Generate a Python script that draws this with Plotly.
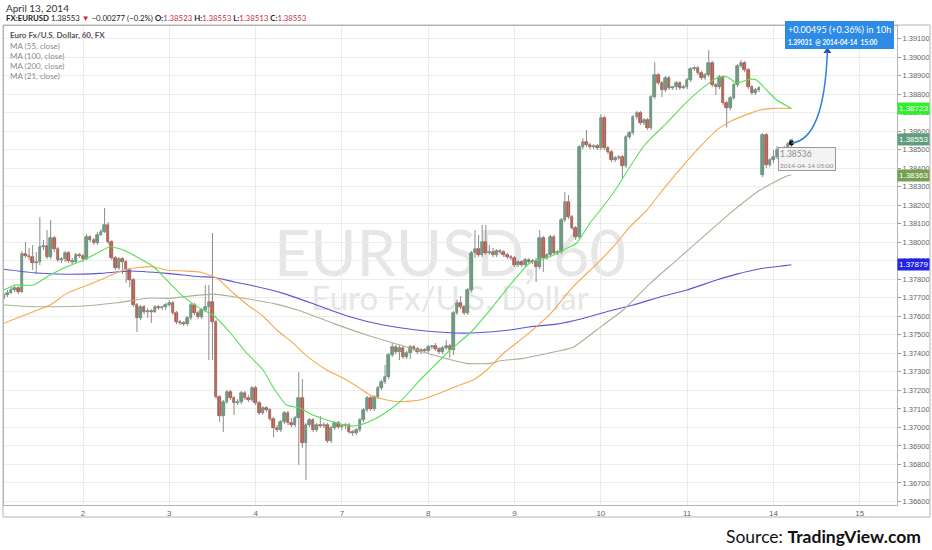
import plotly.graph_objects as go

# ---------------- data (hourly bars, x = trading-hour index, 24 per day) ----------------
hours = list(range(2, 222))

open_ = [
    1.37699, 1.37715, 1.37726, 1.37742, 1.37753, 1.37731, 1.37936, 1.37926, 1.37920, 1.37888,
    1.37893, 1.37974, 1.37980, 1.37920, 1.38023, 1.37963, 1.37904, 1.37909, 1.37942, 1.37899,
    1.37893, 1.37931, 1.37926, 1.37909, 1.38028, 1.38012, 1.37996, 1.38039, 1.38055, 1.38093,
    1.38001, 1.37915, 1.37861, 1.37909, 1.37893, 1.37850, 1.37796, 1.37661, 1.37591, 1.37650,
    1.37623, 1.37629, 1.37623, 1.37650, 1.37645, 1.37650, 1.37661, 1.37672, 1.37618, 1.37569,
    1.37564, 1.37558, 1.37591, 1.37661, 1.37618, 1.37596, 1.37634, 1.37650, 1.37677, 1.37569,
    1.37164, 1.37062, 1.37137, 1.37191, 1.37159, 1.37132, 1.37137, 1.37186, 1.37159, 1.37148,
    1.37213, 1.37132, 1.37078, 1.37105, 1.37094, 1.37045, 1.36997, 1.36986, 1.37029, 1.37078,
    1.37024, 1.37013, 1.37051, 1.37159, 1.36916, 1.37013, 1.37040, 1.36986, 1.37013, 1.37008,
    1.37013, 1.36927, 1.36997, 1.37024, 1.37002, 1.37008, 1.37013, 1.36975, 1.36970, 1.36986,
    1.37040, 1.37094, 1.37159, 1.37099, 1.37164, 1.37213, 1.37245, 1.37272, 1.37391, 1.37434,
    1.37407, 1.37429, 1.37380, 1.37402, 1.37434, 1.37423, 1.37407, 1.37418, 1.37413, 1.37434,
    1.37440, 1.37423, 1.37407, 1.37429, 1.37440, 1.37418, 1.37618, 1.37672, 1.37650, 1.37618,
    1.37742, 1.37942, 1.37963, 1.37931, 1.38001, 1.37942, 1.37947, 1.37931, 1.37953, 1.37947,
    1.37931, 1.37920, 1.37915, 1.37877, 1.37893, 1.37877, 1.37904, 1.37893, 1.37899, 1.37866,
    1.38023, 1.37915, 1.37931, 1.38028, 1.37942, 1.37947, 1.38120, 1.38217, 1.38136, 1.38077,
    1.38028, 1.38514, 1.38541, 1.38525, 1.38514, 1.38520, 1.38509, 1.38671, 1.38509, 1.38487,
    1.38444, 1.38455, 1.38460, 1.38412, 1.38568, 1.38590, 1.38676, 1.38698, 1.38644, 1.38660,
    1.38617, 1.38784, 1.38903, 1.38860, 1.38822, 1.38887, 1.38833, 1.38838, 1.38860, 1.38833,
    1.38838, 1.38876, 1.38935, 1.38941, 1.38914, 1.38887, 1.38903, 1.38968, 1.38849, 1.38838,
    1.38892, 1.38752, 1.38725, 1.38779, 1.38849, 1.38952, 1.38968, 1.38930, 1.38838, 1.38806,
    1.38822, 1.38363, 1.38579, 1.38417, 1.38444, 1.38460, 1.38498, 1.38487, 1.38509, 1.38523,
]
close = [
    1.37715, 1.37726, 1.37742, 1.37753, 1.37731, 1.37936, 1.37926, 1.37920, 1.37888, 1.37893,
    1.37974, 1.37980, 1.37920, 1.38023, 1.37963, 1.37904, 1.37909, 1.37942, 1.37899, 1.37893,
    1.37931, 1.37926, 1.37909, 1.38028, 1.38012, 1.37996, 1.38039, 1.38055, 1.38093, 1.38001,
    1.37915, 1.37861, 1.37909, 1.37893, 1.37850, 1.37796, 1.37661, 1.37591, 1.37650, 1.37623,
    1.37629, 1.37623, 1.37650, 1.37645, 1.37650, 1.37661, 1.37672, 1.37618, 1.37569, 1.37564,
    1.37558, 1.37591, 1.37661, 1.37618, 1.37596, 1.37634, 1.37650, 1.37677, 1.37569, 1.37164,
    1.37062, 1.37137, 1.37191, 1.37159, 1.37132, 1.37137, 1.37186, 1.37159, 1.37148, 1.37213,
    1.37132, 1.37078, 1.37105, 1.37094, 1.37045, 1.36997, 1.36986, 1.37029, 1.37078, 1.37024,
    1.37013, 1.37051, 1.37159, 1.36916, 1.37013, 1.37040, 1.36986, 1.37013, 1.37008, 1.37013,
    1.36927, 1.36997, 1.37024, 1.37002, 1.37008, 1.37013, 1.36975, 1.36970, 1.36986, 1.37040,
    1.37094, 1.37159, 1.37099, 1.37164, 1.37213, 1.37245, 1.37272, 1.37391, 1.37434, 1.37407,
    1.37429, 1.37380, 1.37402, 1.37434, 1.37423, 1.37407, 1.37418, 1.37413, 1.37434, 1.37440,
    1.37423, 1.37407, 1.37429, 1.37440, 1.37418, 1.37618, 1.37672, 1.37650, 1.37618, 1.37742,
    1.37942, 1.37963, 1.37931, 1.38001, 1.37942, 1.37947, 1.37931, 1.37953, 1.37947, 1.37931,
    1.37920, 1.37915, 1.37877, 1.37893, 1.37877, 1.37904, 1.37893, 1.37899, 1.37866, 1.38023,
    1.37915, 1.37931, 1.38028, 1.37942, 1.37947, 1.38120, 1.38217, 1.38136, 1.38077, 1.38028,
    1.38514, 1.38541, 1.38525, 1.38514, 1.38520, 1.38509, 1.38671, 1.38509, 1.38487, 1.38444,
    1.38455, 1.38460, 1.38412, 1.38568, 1.38590, 1.38676, 1.38698, 1.38644, 1.38660, 1.38617,
    1.38784, 1.38903, 1.38860, 1.38822, 1.38887, 1.38833, 1.38838, 1.38860, 1.38833, 1.38838,
    1.38876, 1.38935, 1.38941, 1.38914, 1.38887, 1.38903, 1.38968, 1.38849, 1.38838, 1.38892,
    1.38752, 1.38725, 1.38779, 1.38849, 1.38952, 1.38968, 1.38930, 1.38838, 1.38806, 1.38822,
    1.38833, 1.38579, 1.38417, 1.38444, 1.38460, 1.38498, 1.38487, 1.38509, 1.38530, 1.38553,
]
high = [
    1.37726, 1.37742, 1.37758, 1.37769, 1.37764, 1.37953, 1.38001, 1.37969, 1.37985, 1.37947,
    1.38136, 1.38012, 1.38066, 1.38120, 1.38034, 1.37974, 1.37920, 1.37953, 1.37953, 1.37915,
    1.37942, 1.37942, 1.37936, 1.38044, 1.38039, 1.38023, 1.38055, 1.38071, 1.38185, 1.38109,
    1.38012, 1.37926, 1.37920, 1.37920, 1.37904, 1.37861, 1.37807, 1.37672, 1.37661, 1.37661,
    1.37645, 1.37639, 1.37661, 1.37661, 1.37656, 1.37672, 1.37688, 1.37683, 1.37629, 1.37580,
    1.37575, 1.37602, 1.37672, 1.37672, 1.37629, 1.37645, 1.37769, 1.37769, 1.38050, 1.37580,
    1.37175, 1.37148, 1.37202, 1.37202, 1.37170, 1.37153, 1.37197, 1.37197, 1.37175, 1.37224,
    1.37224, 1.37143, 1.37116, 1.37116, 1.37105, 1.37056, 1.37013, 1.37040, 1.37089, 1.37089,
    1.37051, 1.37062, 1.37299, 1.37261, 1.37024, 1.37051, 1.37051, 1.37024, 1.37062, 1.37029,
    1.37024, 1.37008, 1.37035, 1.37035, 1.37018, 1.37024, 1.37024, 1.36986, 1.36997, 1.37051,
    1.37105, 1.37170, 1.37170, 1.37175, 1.37224, 1.37256, 1.37337, 1.37402, 1.37456, 1.37445,
    1.37445, 1.37440, 1.37413, 1.37445, 1.37445, 1.37434, 1.37429, 1.37429, 1.37445, 1.37445,
    1.37456, 1.37434, 1.37440, 1.37472, 1.37450, 1.37629, 1.37688, 1.37710, 1.37661, 1.37753,
    1.37953, 1.38066, 1.38039, 1.38093, 1.38093, 1.37985, 1.37969, 1.37963, 1.37963, 1.37958,
    1.37942, 1.37931, 1.37926, 1.37904, 1.37904, 1.37915, 1.37915, 1.37909, 1.37915, 1.38066,
    1.38034, 1.37942, 1.38039, 1.38039, 1.37958, 1.38131, 1.38271, 1.38255, 1.38147, 1.38088,
    1.38525, 1.38563, 1.38606, 1.38536, 1.38530, 1.38530, 1.38692, 1.38682, 1.38520, 1.38498,
    1.38466, 1.38471, 1.38471, 1.38579, 1.38601, 1.38687, 1.38709, 1.38709, 1.38671, 1.38671,
    1.38795, 1.38973, 1.38914, 1.38871, 1.38898, 1.38898, 1.38844, 1.38871, 1.38871, 1.38849,
    1.38887, 1.38946, 1.38952, 1.38952, 1.38925, 1.38914, 1.39038, 1.38979, 1.38860, 1.38903,
    1.38903, 1.38763, 1.38790, 1.38860, 1.38962, 1.38984, 1.38979, 1.38941, 1.38849, 1.38833,
    1.38844, 1.38590, 1.38590, 1.38455, 1.38498, 1.38520, 1.38509, 1.38520, 1.38541, 1.38553,
]
low = [
    1.37688, 1.37704, 1.37720, 1.37731, 1.37720, 1.37726, 1.37915, 1.37904, 1.37850, 1.37828,
    1.37877, 1.37958, 1.37909, 1.37909, 1.37947, 1.37893, 1.37888, 1.37893, 1.37888, 1.37882,
    1.37888, 1.37915, 1.37893, 1.37904, 1.38001, 1.37985, 1.37985, 1.38034, 1.38050, 1.37990,
    1.37904, 1.37850, 1.37850, 1.37828, 1.37780, 1.37758, 1.37650, 1.37515, 1.37580, 1.37612,
    1.37591, 1.37564, 1.37618, 1.37634, 1.37634, 1.37634, 1.37650, 1.37607, 1.37558, 1.37553,
    1.37548, 1.37548, 1.37580, 1.37607, 1.37585, 1.37585, 1.37623, 1.37364, 1.37364, 1.37153,
    1.37029, 1.36975, 1.37126, 1.37148, 1.37067, 1.37121, 1.37126, 1.37148, 1.37137, 1.37137,
    1.37121, 1.37067, 1.37067, 1.37083, 1.37035, 1.36948, 1.36975, 1.36975, 1.37018, 1.37013,
    1.37002, 1.37002, 1.36797, 1.36889, 1.36716, 1.37002, 1.36975, 1.36975, 1.36997, 1.36997,
    1.36916, 1.36916, 1.36986, 1.36991, 1.36986, 1.36991, 1.36964, 1.36954, 1.36959, 1.36975,
    1.37029, 1.37083, 1.37089, 1.37089, 1.37153, 1.37202, 1.37234, 1.37261, 1.37380, 1.37396,
    1.37364, 1.37369, 1.37369, 1.37369, 1.37413, 1.37396, 1.37396, 1.37407, 1.37402, 1.37423,
    1.37413, 1.37396, 1.37396, 1.37418, 1.37375, 1.37391, 1.37607, 1.37639, 1.37607, 1.37607,
    1.37731, 1.37915, 1.37920, 1.37920, 1.37931, 1.37931, 1.37920, 1.37920, 1.37936, 1.37920,
    1.37909, 1.37904, 1.37866, 1.37866, 1.37866, 1.37866, 1.37882, 1.37882, 1.37785, 1.37855,
    1.37839, 1.37904, 1.37920, 1.37931, 1.37931, 1.37936, 1.38109, 1.38125, 1.38066, 1.38012,
    1.38017, 1.38503, 1.38514, 1.38503, 1.38503, 1.38498, 1.38498, 1.38498, 1.38476, 1.38433,
    1.38433, 1.38444, 1.38347, 1.38401, 1.38557, 1.38579, 1.38665, 1.38633, 1.38633, 1.38606,
    1.38606, 1.38773, 1.38849, 1.38784, 1.38811, 1.38822, 1.38822, 1.38822, 1.38822, 1.38827,
    1.38827, 1.38865, 1.38925, 1.38903, 1.38876, 1.38876, 1.38892, 1.38838, 1.38795, 1.38827,
    1.38741, 1.38622, 1.38714, 1.38768, 1.38838, 1.38941, 1.38919, 1.38827, 1.38795, 1.38795,
    1.38811, 1.38352, 1.38401, 1.38406, 1.38428, 1.38449, 1.38476, 1.38476, 1.38498, 1.38513,
]

# moving averages (hour index, value)
ma21_h = [2, 5.1, 10.2, 14.8, 19.5, 24.1, 28.7, 31.5, 35.2, 38.9, 43.6, 47.3, 51.9, 56.5, 60.2,
          65, 69.5, 74.1, 76.8, 80.6, 84.3, 87.9, 91.8, 95.5, 99.2, 101, 104.6, 108.5, 112.2,
          117.7, 120.5, 126.1, 131.6, 137.2, 142.7, 148.3, 153.9, 157.6, 161.3, 165, 168.6,
          172.4, 176.1, 179.8, 182, 186.3, 191, 195.6, 200.2, 203, 205.8, 209.5, 211.3, 214.1,
          216.9, 221]
ma21_v = [1.37742, 1.37769, 1.37769, 1.37823, 1.37868, 1.37904, 1.37949, 1.37976, 1.37958,
          1.37922, 1.37868, 1.37796, 1.37706, 1.37643, 1.37607, 1.37510, 1.37402, 1.37310,
          1.37220, 1.37121, 1.37105, 1.37067, 1.37040, 1.37018, 1.37008, 1.37013, 1.37040,
          1.37085, 1.37139, 1.37256, 1.37310, 1.37418, 1.37510, 1.37634, 1.37769, 1.37888,
          1.37922, 1.37958, 1.37996, 1.38104, 1.38192, 1.38293, 1.38408, 1.38516, 1.38563,
          1.38644, 1.38741, 1.38822, 1.38887, 1.38894, 1.38860, 1.38881, 1.38876, 1.38822,
          1.38768, 1.38723]

ma55_h = [2, 6.5, 10.2, 14.8, 19.5, 24.1, 28.7, 32.4, 36.1, 38.9, 43, 47.3, 52, 56.5, 61.2,
          65.8, 70.4, 74, 77.9, 82.5, 85.4, 87.1, 91.8, 96.4, 101, 103.8, 108.5, 112.2, 117.7,
          123.3, 128, 132.5, 136.3, 141, 146.8, 151.1, 153.9, 160.3, 166.8, 171.5, 176.1,
          180.8, 186.3, 191, 195.6, 200.2, 204.8, 209.5, 212.3, 216, 221]
ma55_v = [1.37562, 1.37598, 1.37625, 1.37661, 1.37724, 1.37760, 1.37796, 1.37827, 1.37854,
          1.37862, 1.37868, 1.37850, 1.37845, 1.37839, 1.37807, 1.37726, 1.37652, 1.37602,
          1.37526, 1.37454, 1.37400, 1.37373, 1.37310, 1.37265, 1.37211, 1.37175, 1.37148,
          1.37139, 1.37148, 1.37186, 1.37224, 1.37256, 1.37310, 1.37402, 1.37490, 1.37562,
          1.37612, 1.37760, 1.37882, 1.37976, 1.38084, 1.38174, 1.38309, 1.38417, 1.38516,
          1.38606, 1.38660, 1.38696, 1.38714, 1.38723, 1.38723]

ma100_h = [2, 10.2, 14.8, 24.1, 33.4, 42.6, 48.2, 51.9, 60.2, 65.8, 70.4, 76.9, 84.3, 93.6,
           102.9, 112.2, 121.4, 130.7, 137.2, 140, 146.4, 151.1, 153.9, 160.3, 166.8, 174.2,
           181.7, 189.1, 196.5, 203.9, 212.3, 219.7, 221]
ma100_v = [1.37661, 1.37652, 1.37652, 1.37656, 1.37673, 1.37699, 1.37697, 1.37706, 1.37720,
           1.37706, 1.37692, 1.37670, 1.37630, 1.37562, 1.37499, 1.37445, 1.37391, 1.37346,
           1.37346, 1.37360, 1.37373, 1.37391, 1.37403, 1.37433, 1.37526, 1.37634, 1.37778,
           1.37904, 1.38030, 1.38156, 1.38282, 1.38358, 1.38363]

ma200_h = [2, 10.2, 19.5, 28.7, 37.1, 47.3, 56.5, 60.2, 65.8, 70.4, 79.7, 89, 98.2, 107.5,
           116.8, 126.1, 133.5, 142.7, 148.3, 155.7, 162.2, 169.6, 177, 185.4, 191.9, 200.2,
           205.8, 212.3, 219.7, 221]
ma200_v = [1.37854, 1.37835, 1.37827, 1.37832, 1.37845, 1.37832, 1.37814, 1.37811, 1.37787,
           1.37769, 1.37724, 1.37661, 1.37598, 1.37553, 1.37526, 1.37511, 1.37511, 1.37526,
           1.37544, 1.37558, 1.37584, 1.37625, 1.37661, 1.37710, 1.37742, 1.37796, 1.37828,
           1.37857, 1.37875, 1.37879]

# projection (from 2014-04-14 05:00 to 15:00)
proj_h0, proj_p0 = 221, 1.38536
proj_h1, proj_p1 = 231, 1.39031

day_ticks = [24, 48, 72, 96, 120, 144, 168, 192, 216, 240]
day_labels = ["2", "3", "4", "7", "8", "9", "10", "11", "14", "15"]

# ---------------- layout helpers ----------------
W, H = 932, 550
ML, MR, MT, MB = 4, 35, 26, 45
PW, PH = W - ML - MR, H - MT - MB


def px(x):
    return (x - ML) / PW


def py(y):
    return (H - MB - y) / PH


FONT = "Lato"
UP, UP_L = "#6ba583", "#3e7a5b"
DN, DN_L = "#d75442", "#93321f"

fig = go.Figure()

# wicks
wx, wy = [], []
for h_, hi, lo in zip(hours, high, low):
    wx += [h_, h_, None]
    wy += [lo, hi, None]
fig.add_trace(go.Scatter(x=wx, y=wy, mode="lines", line=dict(color="#8c8c8c", width=1),
                         hoverinfo="skip", showlegend=False))

# bodies
ux, ub, uy, dx, db, dy = [], [], [], [], [], []
for h_, o, c in zip(hours, open_, close):
    if c >= o:
        ux.append(h_); ub.append(o); uy.append(c - o)
    else:
        dx.append(h_); db.append(c); dy.append(o - c)
fig.add_trace(go.Bar(x=ux, base=ub, y=uy, width=0.72, showlegend=False,
                     marker=dict(color=UP, line=dict(color=UP_L, width=0.6))))
fig.add_trace(go.Bar(x=dx, base=db, y=dy, width=0.72, showlegend=False,
                     marker=dict(color=DN, line=dict(color=DN_L, width=0.6))))

# moving averages
for hh, vv, col in [(ma200_h, ma200_v, "#5b55d6"), (ma100_h, ma100_v, "#a9b195"),
                    (ma55_h, ma55_v, "#f6a84e"), (ma21_h, ma21_v, "#55e055")]:
    fig.add_trace(go.Scatter(x=hh, y=vv, mode="lines", showlegend=False, hoverinfo="skip",
                             line=dict(color=col, width=1.1, shape="spline", smoothing=0.5)))

# projection curve
ctrl_h, ctrl_p = proj_h1 - 0.9, proj_p0 + 0.00016
shapes = [
    dict(type="path", xref="x", yref="y",
         path=f"M {proj_h0},{proj_p0} Q {ctrl_h},{ctrl_p} {proj_h1},{proj_p1}",
         line=dict(color="#2f7fe0", width=1.5)),
]
fig.add_trace(go.Scatter(x=[proj_h0], y=[proj_p0], mode="markers", showlegend=False,
                         marker=dict(color="#111", size=5)))
fig.add_trace(go.Scatter(x=[proj_h1], y=[proj_p1], mode="markers", showlegend=False,
                         marker=dict(color="#1f4f9a", size=7, symbol="triangle-up")))

# watermark (below traces)
shapes.append(dict(type="rect", xref="paper", yref="paper", layer="below",
                   x0=px(250), x1=px(650), y0=py(280), y1=py(220),
                   line=dict(width=0), fillcolor="rgba(0,0,0,0)",
                   label=dict(text="EURUSD, 60", textposition="middle center",
                              font=dict(family=FONT, size=63, color="#e6e6e6"))))
shapes.append(dict(type="rect", xref="paper", yref="paper", layer="below",
                   x0=px(250), x1=px(650), y0=py(314), y1=py(280),
                   line=dict(width=0), fillcolor="rgba(0,0,0,0)",
                   label=dict(text="Euro Fx/U.S. Dollar", textposition="middle center",
                              font=dict(family=FONT, size=33, color="#e6e6e6"))))
# outer frame
shapes.append(dict(type="rect", xref="paper", yref="paper", x0=px(3), x1=px(930),
                   y0=py(517), y1=py(25), line=dict(color="#b4b4b4", width=1)))

ann = []


def text(x, y, t, size=9, color="#333", xanchor="left", **kw):
    ann.append(dict(x=px(x), y=py(y), xref="paper", yref="paper", text=t, showarrow=False,
                    xanchor=xanchor, yanchor="middle",
                    font=dict(family=FONT, size=size, color=color), **kw))


RED = "#c0303c"
text(4, 8, "April 13, 2014", size=10, color="#333")
text(4, 18, "<b>FX:EURUSD</b> 1.38553 <span style='color:%s'>▼</span> −0.00277 (−0.2%%) "
     "<b>O:</b><span style='color:%s'>1.38523</span> <b>H:</b><span style='color:%s'>1.38553</span> "
     "<b>L:</b><span style='color:%s'>1.38513</span> <b>C:</b><span style='color:%s'>1.38553</span>"
     % (RED, RED, RED, RED, RED), size=7.8, color="#222")
text(8, 35, "<b>Euro Fx/U.S. Dollar, 60, FX</b>", size=8, color="#555")
for i, lab in enumerate(["MA (55, close)", "MA (100, close)", "MA (200, close)", "MA (21, close)"]):
    text(8, 46 + 10 * i, lab, size=8, color="#8a8a8a")

# projection label
text(839, 35, "+0.00495 (+0.36%) in 10h<br><span style='font-size:6.5px'><b>1.39031  @ 2014-04-14  15:00</b></span>",
     size=9, color="white", xanchor="center", bgcolor="#2d8be6", bordercolor="#2d8be6",
     borderpad=2, align="left")
text(807, 159, "1.38536<br><span style='font-size:6.5px'>2014-04-14 05:00</span>",
     size=8.5, color="#8c8c8c", xanchor="center", bgcolor="#f3f3f3", bordercolor="#9a9a9a",
     borderwidth=1, borderpad=1, align="left")

# price badges on the right axis
for val, bg in [(ma21_v[-1], "#2ef02e"), (close[-1], "#5f9d7e"), (ma100_v[-1], "#76a04f"),
                (ma200_v[-1], "#2323e6")]:
    ann.append(dict(x=1.0, y=val, xref="paper", yref="y", text=f"{val:.5f}", showarrow=False,
                    xanchor="left", yanchor="middle", bgcolor=bg, borderpad=1,
                    font=dict(family="Liberation Sans", size=8, color="white")))

# source
ann.append(dict(x=px(923), y=py(536), xref="paper", yref="paper", showarrow=False,
                xanchor="right", yanchor="middle",
                text="Source: <b>TradingView.com</b>",
                font=dict(family=FONT, size=17.5, color="#111")))

fig.update_layout(
    width=W, height=H, margin=dict(l=ML, r=MR, t=MT, b=MB, autoexpand=False),
    paper_bgcolor="white", plot_bgcolor="white", barmode="overlay", bargap=0,
    showlegend=False, shapes=shapes, annotations=ann,
    xaxis=dict(range=[2.03, 250.36], tickvals=day_ticks, ticktext=day_labels,
               automargin=False,
               showgrid=True, gridcolor="#ececec", gridwidth=1, zeroline=False,
               showline=True, mirror=True, linecolor="#b4b4b4", ticks="",
               tickfont=dict(family="Liberation Sans", size=8, color="#666")),
    yaxis=dict(side="right", range=[1.36581, 1.39168], tick0=1.366, dtick=0.001,
               automargin=False,
               tickformat=".5f", showgrid=True, gridcolor="#ececec", zeroline=False,
               showline=True, mirror=True, linecolor="#b4b4b4", ticks="outside",
               ticklen=3, tickcolor="#999",
               tickfont=dict(family="Liberation Sans", size=7.5, color="#666")),
)

fig.write_html("out.html", config={"displayModeBar": False},
               post_script="document.body.style.margin='0';")
